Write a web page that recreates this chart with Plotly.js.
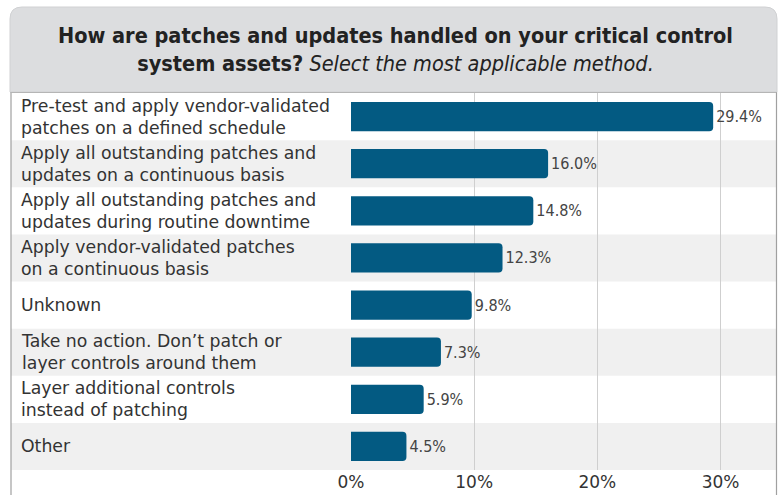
<!DOCTYPE html>
<html>
<head>
<meta charset="utf-8">
<script src="https://cdn.plot.ly/plotly-3.0.1.min.js"></script>
<style>html,body{margin:0;padding:0;background:#fff;}#chart{width:781px;height:495px;}</style>
</head>
<body>
<div id="chart"></div>
<script>
var categories = [
  "Pre-test and apply vendor-validated<br>patches on a defined schedule",
  "Apply all outstanding patches and<br>updates on a continuous basis",
  "Apply all outstanding patches and<br>updates during routine downtime",
  "Apply vendor-validated patches<br>on a continuous basis",
  "Unknown",
  "Take no action. Don’t patch or<br>layer controls around them",
  "Layer additional controls<br>instead of patching",
  "Other"
];
var values = [29.4, 16.0, 14.8, 12.3, 9.8, 7.3, 5.9, 4.5];
var tickValues = [0, 10, 20, 30];
var tickLabels = ["0%", "10%", "20%", "30%"];

var W = 781, H = 495;
var M = {l: 351, r: 5, t: 93, b: 25};
var pw = W - M.l - M.r, ph = H - M.t - M.b;
function px(x) { return (x - M.l) / pw; }
function py(y) { return (H - M.b - y) / ph; }

var shapes = [];
var annotations = [];
// title background with rounded top corners
var L = 10, R = 777, T = 7, B = 92, rad = 12;
shapes.push({
  type: 'path', xref: 'paper', yref: 'paper', layer: 'below',
  path: 'M' + px(L) + ',' + py(B) + ' L' + px(L) + ',' + py(T + rad) +
        ' Q' + px(L) + ',' + py(T) + ' ' + px(L + rad) + ',' + py(T) +
        ' L' + px(R - rad) + ',' + py(T) +
        ' Q' + px(R) + ',' + py(T) + ' ' + px(R) + ',' + py(T + rad) +
        ' L' + px(R) + ',' + py(B) + ' Z',
  fillcolor: '#dcdddf', line: {color: '#d0d1d3', width: 1}
});
// alternating row bands
categories.forEach(function (c, i) {
  if (i % 2 === 1) {
    shapes.push({type: 'rect', xref: 'paper', yref: 'y', layer: 'below',
      x0: px(11), x1: 1, y0: i - 0.5, y1: i + 0.5,
      fillcolor: '#f0f0f0', line: {width: 0}});
  }
  annotations.push({xref: 'paper', yref: 'y', x: px(19), y: c, text: c,
    xanchor: 'left', yanchor: 'middle', align: 'left', showarrow: false,
    font: {family: 'DejaVu Sans, sans-serif', size: 17.3, color: '#333'}});
});
// frame lines
shapes.push({type: 'line', xref: 'paper', yref: 'paper', x0: px(11), x1: px(11), y0: py(92), y1: py(500), line: {color: '#a0a0a0', width: 1.2}});
shapes.push({type: 'line', xref: 'paper', yref: 'paper', x0: px(776.5), x1: px(776.5), y0: py(92), y1: py(500), line: {color: '#a0a0a0', width: 1.2}});
shapes.push({type: 'line', xref: 'paper', yref: 'paper', x0: px(11), x1: px(776.5), y0: py(92.5), y1: py(92.5), line: {color: '#b5b5b5', width: 1}});

annotations.push({
  xref: 'paper', yref: 'paper', x: px(395), y: py(49), xanchor: 'center', yanchor: 'middle',
  showarrow: false, align: 'center',
  text: '<b>How are patches and updates handled on your critical control</b><br><b>system assets?</b> <i>Select the most applicable method.</i>',
  font: {family: 'DejaVu Sans Condensed, sans-serif', size: 21.5, color: '#222'}
});

var trace = {
  type: 'bar', orientation: 'h',
  y: categories, x: values,
  marker: {color: '#035a82'},
  width: 0.62,
  text: values.map(function (v) { return v.toFixed(1) + '%'; }),
  textposition: 'outside', cliponaxis: false,
  textfont: {family: 'DejaVu Sans Condensed, sans-serif', size: 16, color: '#444'},
  hoverinfo: 'none'
};

var layout = {
  width: W, height: H,
  margin: M,
  paper_bgcolor: '#ffffff', plot_bgcolor: 'rgba(0,0,0,0)',
  showlegend: false,
  barcornerradius: 4,
  xaxis: {range: [0, 34.5], tickvals: tickValues, ticktext: tickLabels,
    showgrid: true, gridcolor: '#cfcfcf', gridwidth: 1, zeroline: false,
    showline: false, ticks: '', fixedrange: true,
    tickfont: {family: 'DejaVu Sans, sans-serif', size: 17, color: '#333'}},
  yaxis: {type: 'category', categoryarray: categories, autorange: 'reversed',
    showticklabels: false, showgrid: false, zeroline: false, showline: false, ticks: '', fixedrange: true},
  shapes: shapes,
  annotations: annotations
};

Plotly.newPlot('chart', [trace], layout, {staticPlot: true, displayModeBar: false});
</script>
</body>
</html>
